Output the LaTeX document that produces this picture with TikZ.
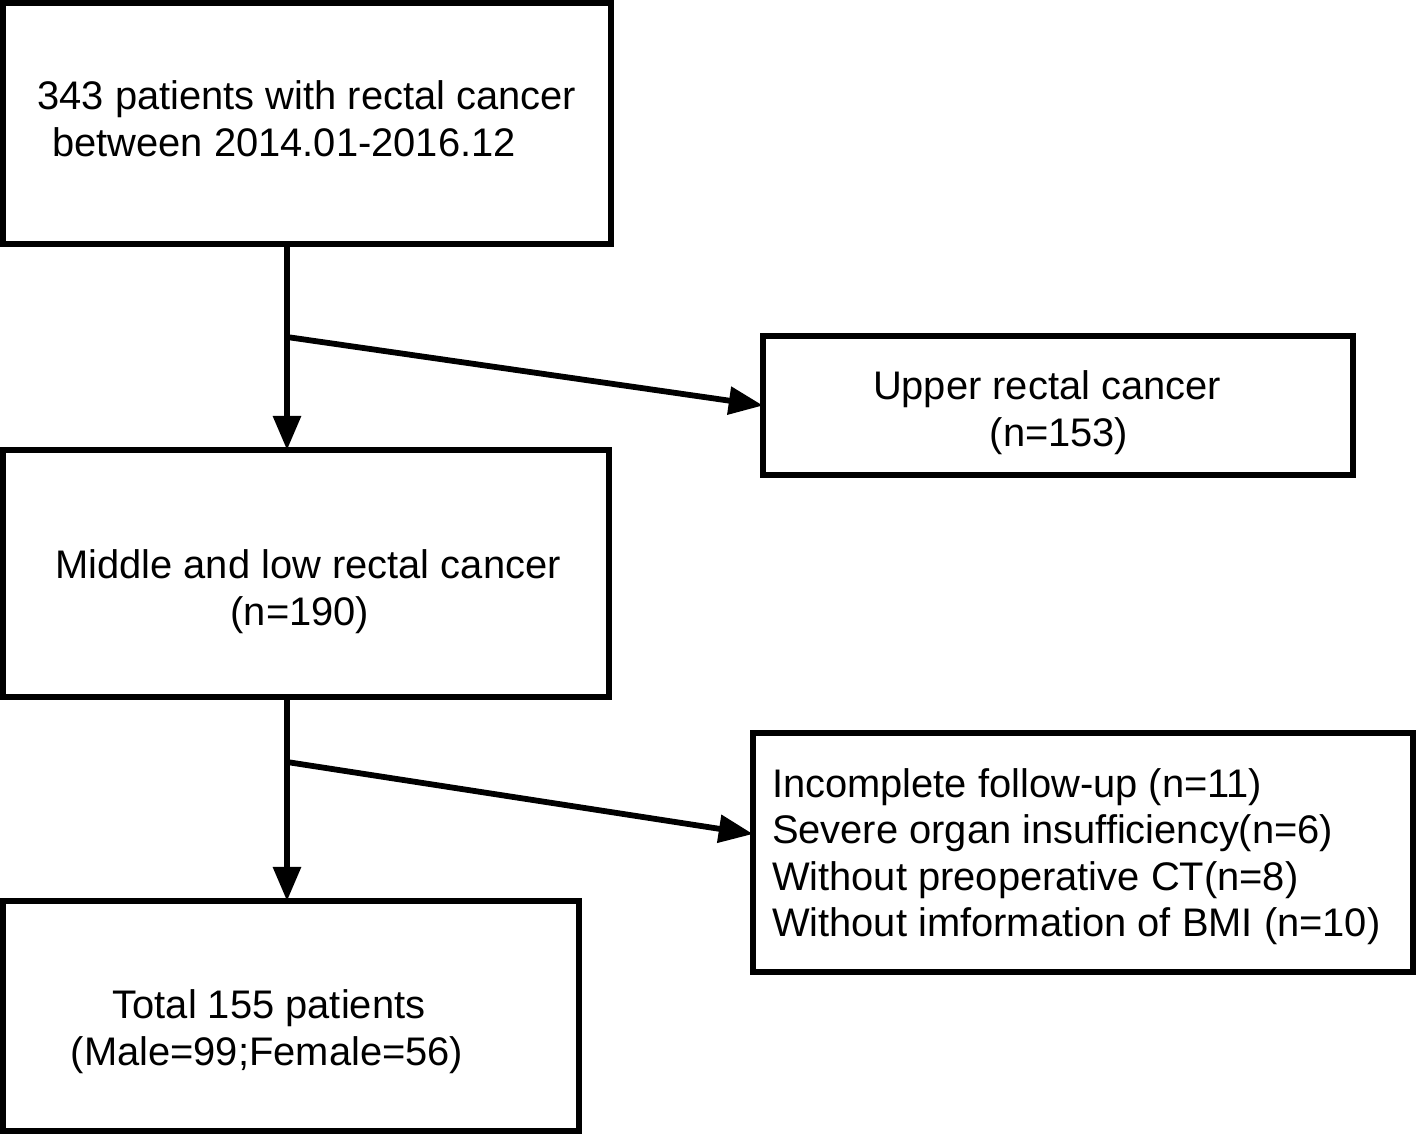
\documentclass[tikz,border=0pt]{standalone}
\usepackage{fontspec}
\setmainfont{Liberation Sans}
\usetikzlibrary{arrows.meta}
\begin{document}
\begin{tikzpicture}[x=0.02cm,y=-0.02cm,
  boxnode/.style={draw=black,line width=3.7pt,rectangle,inner sep=0pt,outer sep=0pt},
  txt/.style={inner sep=0pt,outer sep=0pt,anchor=base,font=\fontsize{22.7}{26}\selectfont},
  txtl/.style={txt,anchor=base west},
  arr/.style={line width=3.3pt,-{Triangle[length=19.5pt,width=15.5pt]}}]
\useasboundingbox (0,0) rectangle (1416,1134);
% boxes
\node[boxnode,minimum width=608*0.02cm,minimum height=241*0.02cm] (box1) at (307,123.5) {};
\node[boxnode,minimum width=590*0.02cm,minimum height=139*0.02cm] (box2) at (1058,405.5) {};
\node[boxnode,minimum width=606*0.02cm,minimum height=247*0.02cm] (box3) at (306,573.5) {};
\node[boxnode,minimum width=660*0.02cm,minimum height=239*0.02cm] (box4) at (1083,852.5) {};
\node[boxnode,minimum width=576*0.02cm,minimum height=230*0.02cm] (box5) at (291,1016) {};
% texts
\node[txt] (t1a) at (307,109) {343 patients with rectal cancer};
\node[txt] (t1b) at (284,156) {between 2014.01-2016.12};
\node[txt] (t2a) at (1047,399) {Upper rectal cancer};
\node[txt] (t2b) at (1059,446) {(n=153)};
\node[txt] (t3a) at (308,578) {Middle and low rectal cancer};
\node[txt] (t3b) at (300,625) {(n=190)};
\node[txtl] (t4a) at (772,797) {Incomplete follow-up (n=11)};
\node[txtl] (t4b) at (772,843) {Severe organ insufficiency(n=6)};
\node[txtl] (t4c) at (772,890) {Without preoperative CT(n=8)};
\node[txtl] (t4d) at (772,936) {Without imformation of BMI (n=10)};
\node[txt] (t5a) at (269,1018) {Total 155 patients};
\node[txt] (t5b) at (267,1065) {(Male=99;Female=56)};
% connectors
\coordinate (j1) at (287,337);
\coordinate (j2) at (287,762);
\coordinate (e2) at (753,834);
\draw[arr] (box1.south -| j1) -- (box3.north -| j1);
\draw[arr] (j1) -- (box2.west);
\draw[arr] (box3.south -| j2) -- (box5.north -| j2);
\draw[arr] (j2) -- (box4.west |- e2);
\end{tikzpicture}
\end{document}
